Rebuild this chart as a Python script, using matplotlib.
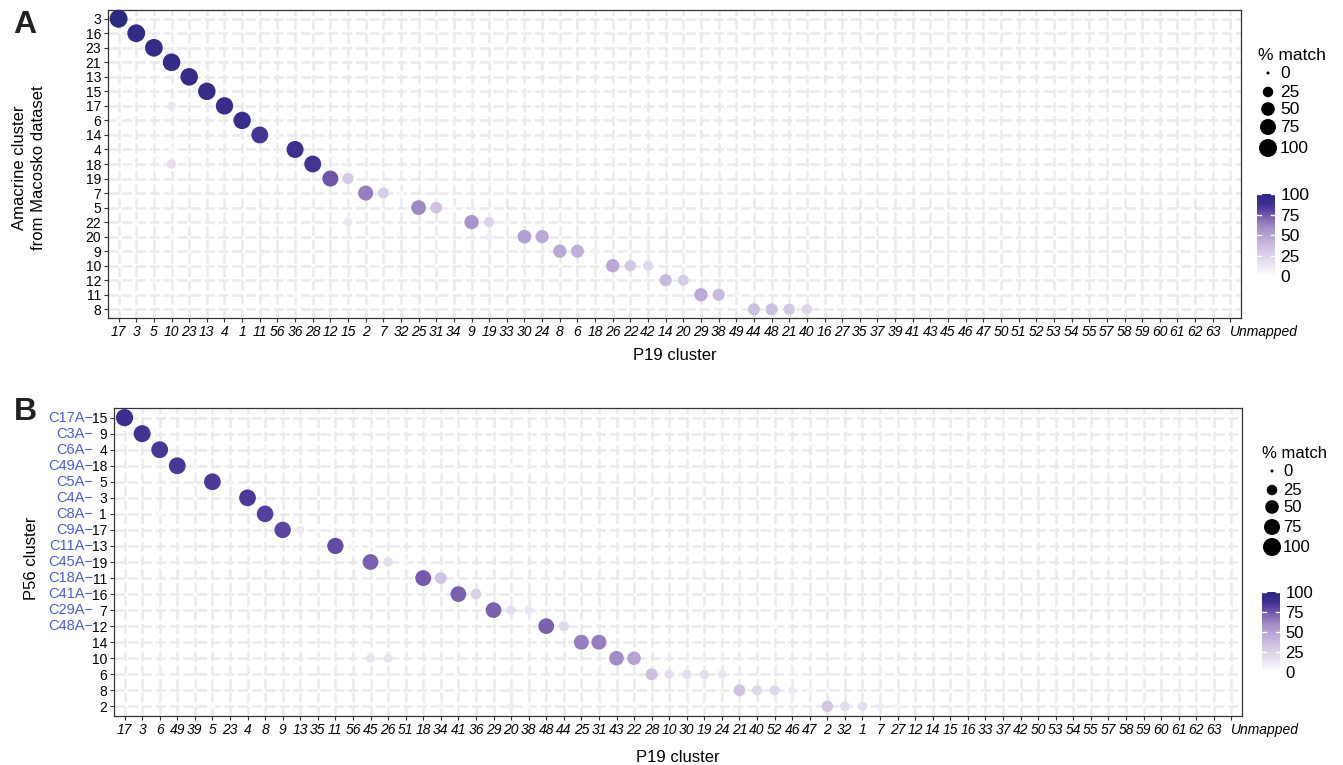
import numpy as np
import matplotlib
matplotlib.use("Agg")
import matplotlib.pyplot as plt
from matplotlib.colors import LinearSegmentedColormap
from matplotlib.transforms import offset_copy

plt.rcParams['font.family'] = ['Liberation Sans', 'DejaVu Sans']

W, H, DPI = 1343, 765, 100

# ---- panel A: Macosko amacrine clusters vs P19 clusters ----
a_cols = ['17', '3', '5', '10', '23', '13', '4', '1', '11', '56', '36', '28', '12', '15', '2', '7',
          '32', '25', '31', '34', '9', '19', '33', '30', '24', '8', '6', '18', '26', '22', '42', '14',
          '20', '29', '38', '49', '44', '48', '21', '40', '16', '27', '35', '37', '39', '41', '43', '45',
          '46', '47', '50', '51', '52', '53', '54', '55', '57', '58', '59', '60', '61', '62', '63', 'Unmapped']
a_rows = ['3', '16', '23', '21', '13', '15', '17', '6', '14', '4', '18', '19', '7', '5', '22', '20',
          '9', '10', '12', '11', '8']
a_pt_row = ['3', '16', '23', '21', '13', '15', '17', '6', '14', '14', '4', '18', '19', '19',
            '7', '7', '7', '5', '5', '5', '22', '22', '22', '20', '20', '9', '9', '9',
            '10', '10', '10', '12', '12', '11', '11', '11', '8', '8', '8', '8',
            '17', '18', '4', '22', '20', '6', '11', '12', '20', '22']
a_pt_col = ['17', '3', '5', '10', '23', '13', '4', '1', '11', '56', '36', '28', '12', '15',
            '2', '7', '32', '25', '31', '34', '9', '19', '33', '30', '24', '8', '6', '18',
            '26', '22', '42', '14', '20', '29', '38', '49', '44', '48', '21', '40',
            '10', '10', '10', '15', '19', '17', '36', '5', '10', '3']
a_pt_val = [100, 97, 96, 95, 94, 93, 92, 92, 86, 6, 88, 86, 75, 30,
            64, 28, 5, 61, 34, 4, 57, 24, 6, 51, 47, 47, 44, 8,
            47, 31, 22, 38, 28, 47, 38, 6, 36, 36, 31, 24,
            14, 18, 5, 14, 8, 3, 4, 4, 4, 3]

# ---- panel B: P56 clusters vs P19 clusters ----
b_cols = ['17', '3', '6', '49', '39', '5', '23', '4', '8', '9', '13', '35', '11', '56', '45', '26',
          '51', '18', '34', '41', '36', '29', '20', '38', '48', '44', '25', '31', '43', '22', '28', '10',
          '30', '19', '24', '21', '40', '52', '46', '47', '2', '32', '1', '7', '27', '12', '14', '15',
          '16', '33', '37', '42', '50', '53', '54', '55', '57', '58', '59', '60', '61', '62', '63', 'Unmapped']
b_rows = ['15', '9', '4', '18', '5', '3', '1', '17', '13', '19', '11', '16', '7', '12', '14', '10',
          '6', '8', '2']
b_prefix = ['C17A', 'C3A', 'C6A', 'C49A', 'C5A', 'C4A', 'C8A', 'C9A', 'C11A', 'C45A', 'C18A',
            'C41A', 'C29A', 'C48A']
b_pt_row = ['15', '9', '4', '4', '18', '18', '18', '5', '5', '3', '3', '1', '1',
            '17', '17', '17', '13', '13', '13', '19', '19', '19', '11', '11', '16', '16',
            '7', '7', '7', '12', '12', '12', '14', '14', '10', '10', '10', '10',
            '6', '6', '6', '6', '6', '8', '8', '8', '8', '8', '8',
            '2', '2', '2', '2', '2', '2', '2', '2', '2']
b_pt_col = ['17', '3', '6', '8', '49', '39', '20', '5', '23', '4', '28', '8', '6',
            '9', '13', '35', '11', '56', '45', '45', '26', '51', '18', '34', '41', '36',
            '29', '20', '38', '48', '44', '52', '25', '31', '43', '22', '45', '26',
            '28', '10', '30', '19', '24', '21', '40', '52', '46', '47', '20',
            '2', '32', '1', '7', '27', '34', '20', '38', '5']
b_pt_val = [90, 87, 85, 6, 85, 5, 4, 84, 8, 84, 3, 82, 4,
            80, 11, 4, 78, 5, 3, 72, 18, 5, 74, 34, 72, 26,
            72, 18, 14, 72, 22, 3, 64, 64, 60, 50, 16, 16,
            36, 18, 18, 18, 14, 34, 22, 22, 12, 6, 8,
            32, 20, 18, 10, 6, 6, 10, 4, 3]

match_cmap = LinearSegmentedColormap.from_list(
    'match', [(0, '#FFFFFF'), (0.1, '#F0ECF6'), (0.2, '#E3DBEE'), (0.36, '#CDBFE0'),
              (0.5, '#B5A2D3'), (0.6, '#A38DC7'), (0.7, '#8468B2'), (0.8, '#5B45A0'),
              (0.88, '#3F2F8F'), (1.0, '#2B2A7F')])
BLUE = '#4A62C4'


def dot_size(v):
    d_px = 3 + 15 * np.sqrt(np.asarray(v, dtype=float) / 100)
    return (d_px * 72 / DPI) ** 2


def px_box(x0, y0, x1, y1):
    return [x0 / W, 1 - y1 / H, (x1 - x0) / W, (y1 - y0) / H]


def draw_panel(ax, cols, rows, pr, pc, pv):
    xi = np.array([cols.index(c) for c in pc])
    yi = np.array([rows.index(r) for r in pr])
    pv = np.array(pv)
    order = np.argsort(pv)
    ax.set_xlim(-0.6, len(cols) - 0.4)
    ax.set_ylim(len(rows) - 0.4, -0.6)
    ax.set_xticks(range(len(cols)), cols, fontstyle='italic', fontsize=10)
    ax.set_yticks(range(len(rows)), rows, fontsize=10)
    last = ax.get_xticklabels()[-1]
    last.set_horizontalalignment('left')
    last.set_transform(offset_copy(last.get_transform(), fig=fig, x=-4, units='dots'))
    ax.grid(True, color='#EBEBEB', lw=1.8, ls=(0, (4, 1.5)))
    ax.set_axisbelow(True)
    ax.tick_params(length=3, width=0.8, color='#333333', pad=2, labelcolor='black')
    for s in ax.spines.values():
        s.set_color('#333333')
        s.set_linewidth(0.9)
    ax.scatter(xi[order], yi[order], s=dot_size(pv[order]), c=pv[order], cmap=match_cmap,
               vmin=0, vmax=100, edgecolors='none', zorder=3, clip_on=False)


def draw_colorbar(x0, y_top, y_bot, fs):
    # y_top = pixel row of value 100, y_bot = pixel row of value 0
    pad = (y_bot - y_top) * 0.03
    cax = fig.add_axes(px_box(x0, y_top - pad, x0 + 18, y_bot + pad))
    grad = np.linspace(0, 100, 256).reshape(-1, 1)
    cax.imshow(grad, cmap=match_cmap, aspect='auto', origin='lower',
               extent=(0, 1, 0, 100), vmin=0, vmax=100)
    cax.set_ylim(-3, 103)
    cax.set_xlim(0, 1)
    ticks = [0, 25, 50, 75, 100]
    for t in ticks[1:]:
        cax.plot([0, 0.2], [t, t], color='white', lw=1)
        cax.plot([0.8, 1], [t, t], color='white', lw=1)
    cax.set_xticks([])
    cax.yaxis.tick_right()
    cax.set_yticks(ticks, [str(t) for t in ticks], fontsize=fs)
    cax.tick_params(length=0, pad=4)
    for s in cax.spines.values():
        s.set_visible(False)


def draw_size_legend(x_title, y_title, x_dot, y_dots, x_lab, fs):
    lax.text(x_title, y_title, '% match', fontsize=fs, ha='left', va='center')
    vals = [0, 25, 50, 75, 100]
    lax.scatter([x_dot] * len(vals), y_dots, s=dot_size(vals), color='black', edgecolors='none')
    for v, y in zip(vals, y_dots):
        lax.text(x_lab, y, str(v), fontsize=fs, ha='left', va='center')


fig = plt.figure(figsize=(W / DPI, H / DPI), dpi=DPI)

ax_a = fig.add_axes(px_box(108, 10, 1241, 318))
draw_panel(ax_a, a_cols, a_rows, a_pt_row, a_pt_col, a_pt_val)

ax_b = fig.add_axes(px_box(114, 408, 1242, 716))
draw_panel(ax_b, b_cols, b_rows, b_pt_row, b_pt_col, b_pt_val)
for i, p in enumerate(b_prefix):
    ax_b.annotate(p + '\u2212', xy=(0, i), xycoords=ax_b.get_yaxis_transform(),
                  xytext=(-15, 0), textcoords='offset points', ha='right', va='center',
                  color=BLUE, fontsize=10.5)

# axis titles and panel letters
fig.text(675 / W, 1 - 356 / H, 'P19 cluster', fontsize=12, ha='center', va='center')
fig.text(678 / W, 1 - 757 / H, 'P19 cluster', fontsize=12, ha='center', va='center')
fig.text(29 / W, 1 - 168 / H, 'Amacrine cluster\nfrom Macosko dataset', fontsize=12,
         rotation=90, ha='center', va='center', multialignment='center', linespacing=1.35)
fig.text(31 / W, 1 - 558 / H, 'P56 cluster', fontsize=12, rotation=90, ha='center', va='center')
fig.text(25 / W, 1 - 25 / H, 'A', fontsize=23, fontweight='bold', ha='center', va='center',
         color='#222222')
fig.text(25 / W, 1 - 412 / H, 'B', fontsize=23, fontweight='bold', ha='center', va='center',
         color='#222222')

# legends
lax = fig.add_axes([0, 0, 1, 1])
lax.set_xlim(0, W)
lax.set_ylim(H, 0)
lax.axis('off')
draw_size_legend(1258, 55, 1268, [73, 92, 109, 127, 148], 1280, 12.5)
draw_size_legend(1262, 453, 1272, [471, 490, 507, 527, 547], 1283, 12)
draw_colorbar(1257, 194, 276, 12.5)
draw_colorbar(1262, 592, 672, 12)

fig.savefig('out.png', dpi=DPI)
